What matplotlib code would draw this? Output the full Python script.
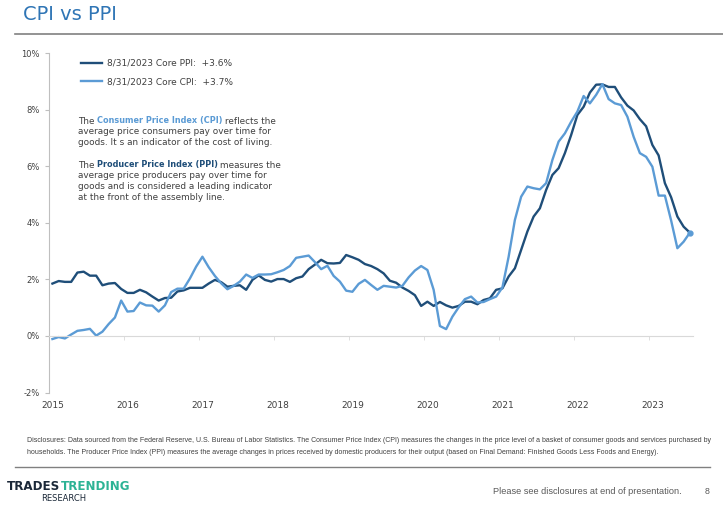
import numpy as np
import matplotlib
matplotlib.use("Agg")
import matplotlib.pyplot as plt
from matplotlib.lines import Line2D

# monthly core inflation, Jan 2015 .. Jul 2023 (% y/y)
years = ["2015", "2016", "2017", "2018", "2019", "2020", "2021", "2022", "2023"]

ppi = [1.85, 1.94, 1.91, 1.91, 2.24, 2.27, 2.13, 2.13, 1.79, 1.85, 1.87, 1.66,
       1.52, 1.52, 1.63, 1.54, 1.39, 1.25, 1.34, 1.35, 1.57, 1.61, 1.70, 1.70,
       1.70, 1.85, 1.98, 1.90, 1.74, 1.77, 1.79, 1.63, 1.98, 2.14, 1.98, 1.92,
       2.01, 2.01, 1.91, 2.04, 2.10, 2.36, 2.52, 2.69, 2.57, 2.56, 2.58, 2.86,
       2.78, 2.69, 2.54, 2.47, 2.36, 2.21, 1.95, 1.88, 1.71, 1.59, 1.44, 1.06,
       1.21, 1.06, 1.20, 1.08, 1.00, 1.06, 1.21, 1.21, 1.12, 1.27, 1.33, 1.63,
       1.68, 2.10, 2.39, 3.04, 3.69, 4.22, 4.51, 5.16, 5.69, 5.93, 6.46, 7.10,
       7.81, 8.10, 8.60, 8.88, 8.89, 8.80, 8.80, 8.43, 8.14, 7.97, 7.66, 7.41,
       6.75, 6.38, 5.40, 4.90, 4.22, 3.86, 3.65]

cpi = [-0.11, -0.04, -0.09, 0.05, 0.18, 0.21, 0.25, 0.01, 0.15, 0.42, 0.65, 1.25,
       0.86, 0.88, 1.18, 1.08, 1.07, 0.86, 1.08, 1.55, 1.67, 1.67, 2.03, 2.45,
       2.80, 2.43, 2.12, 1.86, 1.65, 1.77, 1.92, 2.17, 2.05, 2.17, 2.17, 2.18,
       2.25, 2.33, 2.47, 2.76, 2.80, 2.84, 2.61, 2.36, 2.48, 2.12, 1.92, 1.60,
       1.56, 1.84, 1.98, 1.80, 1.63, 1.77, 1.74, 1.71, 1.77, 2.07, 2.31, 2.47,
       2.33, 1.63, 0.35, 0.24, 0.68, 1.01, 1.30, 1.39, 1.18, 1.20, 1.30, 1.39,
       1.71, 2.80, 4.10, 4.92, 5.28, 5.22, 5.18, 5.40, 6.22, 6.87, 7.16, 7.57,
       7.93, 8.48, 8.22, 8.52, 8.90, 8.37, 8.22, 8.16, 7.75, 7.04, 6.46, 6.33,
       5.98, 4.96, 4.96, 4.08, 3.10, 3.33, 3.65]

yticks = [-2, 0, 2, 4, 6, 8, 10]
ppi_label = "8/31/2023 Core PPI:  +3.6%"
cpi_label = "8/31/2023 Core CPI:  +3.7%"

DARK = "#1f4e79"
LIGHT = "#5b9bd5"
GREY = "#404040"
W, H = 723, 509

plt.rcParams["font.family"] = ["DejaVu Sans"]


def px(x, y):
    return x / W, 1 - y / H


fig = plt.figure(figsize=(W / 100, H / 100), dpi=100)
ax = fig.add_axes([49.3 / W, 1 - 392.5 / H, (693 - 49.3) / W, (392.5 - 53) / H])

x = np.arange(len(ppi)) + 0.5
ax.plot(x, ppi, color=DARK, lw=1.7, label=ppi_label, solid_joinstyle="round")
ax.plot(x, cpi, color=LIGHT, lw=1.7, label=cpi_label, solid_joinstyle="round")
ax.plot(x[-1], cpi[-1], "o", color=LIGHT, ms=3.5)

ax.set_xlim(0, len(ppi))
ax.set_ylim(-2, 10)
ax.set_yticks(yticks)
ax.set_yticklabels([f"{v}%" for v in yticks])

for s in ["top", "right"]:
    ax.spines[s].set_visible(False)
ax.spines["left"].set_color("#bfbfbf")
ax.spines["bottom"].set_color("#d9d9d9")
ax.spines["bottom"].set_position(("data", 0))

# labels centred on the first month, tick marks on the year boundary
ax.set_xticks(np.arange(len(years)) * 12 + 0.5)
ax.set_xticklabels(years)
ax.set_xticks(np.arange(len(years)) * 12, minor=True)
ax.tick_params(axis="x", which="major", length=0, pad=47, labelsize=6.5, labelcolor=GREY)
ax.tick_params(axis="x", which="minor", length=3, color="#d9d9d9")
ax.tick_params(axis="y", length=3, color="#bfbfbf", labelsize=6, labelcolor=GREY, pad=4)

leg = ax.legend(loc="upper left", bbox_to_anchor=px(81, 59), bbox_transform=fig.transFigure,
                frameon=False, fontsize=6.5, handlelength=2.3, handletextpad=0.6,
                labelspacing=1.0, borderpad=0, borderaxespad=0)
for t in leg.get_texts():
    t.set_color(GREY)

# title and separators
fig.text(*px(23, 15), "CPI vs PPI", fontsize=14, color="#2f75b5", va="center", ha="left")
fig.add_artist(Line2D([15 / W, 1], [1 - 34 / H] * 2, color="#808080", lw=1.2))
fig.add_artist(Line2D([15 / W, 710 / W], [1 - 466.7 / H] * 2, color="#808080", lw=1.0))

# explanatory paragraph
fs = 6.4
fsb = 5.9


def chain(prev, s, size, **kw):
    return ax.annotate(s, xy=(1, 0), xycoords=prev, xytext=(1.8, 0), textcoords="offset points",
                       va="bottom", ha="left", fontsize=size, **kw)


t = fig.text(*px(78, 121), "The", fontsize=fs, color=GREY, va="center")
t = chain(t, "Consumer Price Index (CPI)", fsb, color=LIGHT, fontweight="bold")
chain(t, "reflects the", fs, color=GREY)
fig.text(*px(78, 131.7), "average price consumers pay over time for", fontsize=fs, color=GREY, va="center")
fig.text(*px(78, 142.5), "goods. It s an indicator of the cost of living.", fontsize=fs, color=GREY, va="center")

t = fig.text(*px(78, 165), "The", fontsize=fs, color=GREY, va="center")
t = chain(t, "Producer Price Index (PPI)", fsb, color=DARK, fontweight="bold")
chain(t, "measures the", fs, color=GREY)
fig.text(*px(78, 176), "average price producers pay over time for", fontsize=fs, color=GREY, va="center")
fig.text(*px(78, 186.7), "goods and is considered a leading indicator", fontsize=fs, color=GREY, va="center")
fig.text(*px(78, 197.3), "at the front of the assembly line.", fontsize=fs, color=GREY, va="center")

# disclosures
disc1 = ("Disclosures: Data sourced from the Federal Reserve, U.S. Bureau of Labor Statistics. The Consumer Price Index (CPI) "
         "measures the changes in the price level of a basket of consumer goods and services purchased by")
disc2 = ("households. The Producer Price Index (PPI) measures the average changes in prices received by domestic producers "
         "for their output (based on Final Demand: Finished Goods Less Foods and Energy).")
dfam = ["Liberation Sans Narrow", "Liberation Sans", "DejaVu Sans"]
d1 = fig.text(*px(27, 441), disc1, fontsize=5.2, color=GREY, va="center", family=dfam)
d2 = fig.text(*px(27, 453), disc2, fontsize=5.2, color=GREY, va="center", family=dfam)
foot = fig.text(*px(493, 492), "Please see disclosures at end of presentation.", fontsize=6.3,
                color="#595959", va="center", family=dfam)
fig.text(*px(705, 492), "8", fontsize=6.3, color="#595959", va="center", family=dfam)

# fit the small print to the widths seen in the reference
fig.canvas.draw()
scale = (699 - 27) / d1.get_window_extent().width
d1.set_fontsize(5.2 * scale)
d2.set_fontsize(5.2 * scale)
foot.set_fontsize(6.3 * (680 - 493) / foot.get_window_extent().width)

# logo
t = fig.text(*px(7, 487), "TRADES", fontsize=8.6, fontweight="bold", color="#1b2838", va="center")
ax.annotate("TRENDING", xy=(1, 0), xycoords=t, xytext=(0.5, 0), textcoords="offset points",
            va="bottom", ha="left", fontsize=8.6, fontweight="bold", color="#2db395")
fig.text(*px(41, 498.5), "RESEARCH", fontsize=6.0, color="#1b2838", va="center")

fig.savefig("out.png", dpi=100)
